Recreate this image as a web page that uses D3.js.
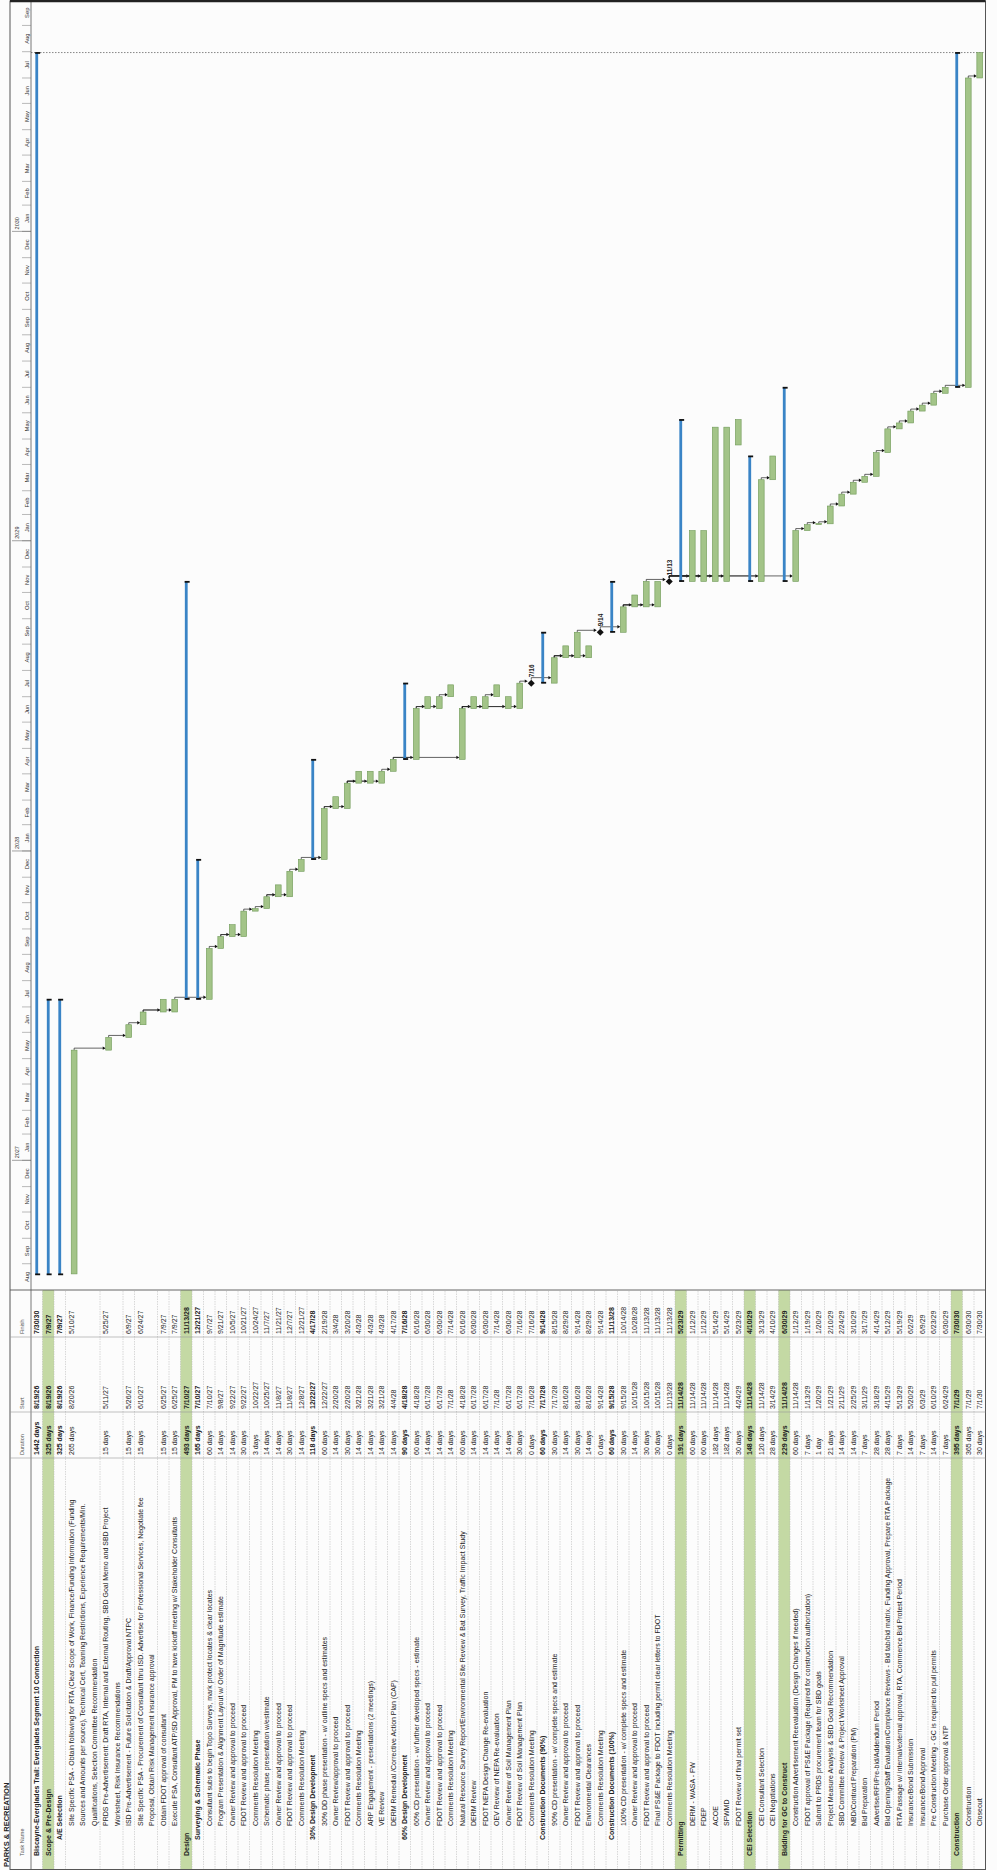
<!DOCTYPE html>
<html>
<head>
<meta charset="utf-8">
<script src="https://cdn.jsdelivr.net/npm/d3@7"></script>
<style>
  body { margin: 0; background: #fff; }
  svg { display: block; font-family: "Liberation Sans", Arial, sans-serif; }
</style>
</head>
<body>
<svg id="chart" width="997" height="1870"></svg>
<script>
const taskNames = [
  "Biscayne-Everglades Trail: Everglades Segment 10 Connection",
  "Scope & Pre-Design",
  "A/E Selection",
  "Site Specific PSA - Obtain following for RTA (Clear Scope of Work, Finance/Funding Information (Funding\nSources and Amounts per source), Technical Cert, Teaming Restrictions, Experience Requirements/Min.\nQualifications, Selection Committee Recommendation",
  "PRDS Pre-Advertisement: Draft RTA, Internal and External Routing, SBD Goal Memo and SBD Project\nWorksheet, Risk Insurance Recommendations",
  "ISD Pre-Advertisement - Future Solicitation & Draft/Approval NTPC",
  "Site Specific PSA - Procurement of Consultant thru ISD. Advertise for Professional Services, Negotiate fee\nProposal, Obtain Risk Management insurance approval",
  "Obtain FDOT approval of consultant",
  "Execute PSA, Consultant ATP/SD Approval, PM to have kickoff meeting w/ Stakeholder Consultants",
  "Design",
  "Surveying & Schematic Phase",
  "Consultant subs to begin Topo Surveys, mark protect locates & clear locates",
  "Program Presentation & Alignment Layout w/ Order of Magnitude estimate",
  "Owner Review and approval to proceed",
  "FDOT Review and approval to proceed",
  "Comments Resolution Meeting",
  "Schematic phase presentation w/estimate",
  "Owner Review and approval to proceed",
  "FDOT Review and approval to proceed",
  "Comments Resolution Meeting",
  "30% Design Development",
  "30% DD phase presentation - w/ outline specs and estimates",
  "Owner Review/approval to proceed",
  "FDOT Review and approval to proceed",
  "Comments Resolution Meeting",
  "ARP Engagement - presentations (2 meetings)",
  "VE Review",
  "DERM Remedial /Corrective Action Plan (CAP)",
  "60% Design Development",
  "60% CD presentation - w/ further developed specs - estimate",
  "Owner Review and approval to proceed",
  "FDOT Review and approval to proceed",
  "Comments Resolution Meeting",
  "Natural Resource Survey Report/Environmental Site Review & Bat Survey, Traffic Impact Study",
  "DERM Review",
  "FDOT NEPA Design Change Re-evaluation",
  "OEV Review of NEPA Re-evaluation",
  "Owner Review of Soil Management Plan",
  "FDOT Review of Soil Management Plan",
  "Comments Resolution Meeting",
  "Construction Documents (90%)",
  "90% CD presentation - w/ complete specs and estimate",
  "Owner Review and approval to proceed",
  "FDOT Review and approval to proceed",
  "Environmental Clearances",
  "Comments Resolution Meeting",
  "Construction Documents (100%)",
  "100% CD presentation - w/ complete specs and estimate",
  "Owner Review and approval to proceed",
  "FDOT Review and approval to proceed",
  "Final PS&E Package to FDOT including permit clear letters to FDOT",
  "Comments Resolution Meeting",
  "Permitting",
  "DERM - WASA - FW",
  "FDEP",
  "ACOE",
  "SFWMD",
  "FDOT Review of final permit set",
  "CEI Selection",
  "CEI Consultant Selection",
  "CEI Negotiations",
  "Bidding for GC to Construct",
  "Construction Advertisement Reevaluation (Design Changes if needed)",
  "FDOT approval of PS&E Package (Required for construction authorization)",
  "Submit to PRDS procurement team for SBD goals",
  "Project Measure Analysis & SBD Goal Recommendation",
  "SBD Committee Review & Project Worksheet Approval",
  "NBD/Contract Preparation (PM)",
  "Bid Preparation",
  "Advertise/RFI/Pre-bid/Addendum Period",
  "Bid Opening/Staff Evaluation/Compliance Reviews - Bid tab/bid matrix, Funding Approval, Prepare RTA Package",
  "RTA Passage w/ internal/external approval, RTA, Commence Bid Protest Period",
  "Insurance/Bond Submission",
  "Insurance/Bond Approval",
  "Pre Construction Meeting - GC is required to pull permits",
  "Purchase Order approval & NTP",
  "Construction",
  "Construction",
  "Closeout"
];

const levels = [1,2,3,4,4,4,4,4,4,
  2,3,4,4,4,4,4,4,4,4,4,
  3,4,4,4,4,4,4,4,
  3,4,4,4,4,4,4,4,4,4,4,4,
  3,4,4,4,4,4,
  3,4,4,4,4,4,
  2,4,4,4,4,4,
  2,4,4,
  2,4,4,4,4,4,4,4,4,4,4,4,4,4,4,
  2,4,4];

const durations = ["1442 days","325 days","325 days","265 days","15 days","15 days","15 days","15 days","15 days",
  "493 days","165 days","60 days","14 days","14 days","30 days","3 days","14 days","14 days","30 days","14 days",
  "118 days","60 days","14 days","30 days","14 days","14 days","14 days","14 days",
  "90 days","60 days","14 days","14 days","14 days","60 days","14 days","14 days","14 days","14 days","30 days","0 days",
  "60 days","30 days","14 days","30 days","14 days","0 days",
  "60 days","30 days","14 days","30 days","30 days","0 days",
  "191 days","60 days","60 days","182 days","182 days","30 days",
  "148 days","120 days","28 days",
  "229 days","60 days","7 days","1 day","21 days","14 days","14 days","7 days","28 days","28 days","7 days","14 days","7 days","14 days","7 days",
  "395 days","365 days","30 days"];

const starts = ["8/19/26","8/19/26","8/19/26","8/20/26","5/11/27","5/26/27","6/10/27","6/25/27","6/25/27",
  "7/10/27","7/10/27","7/10/27","9/8/27","9/22/27","9/22/27","10/22/27","10/25/27","11/8/27","11/8/27","12/8/27",
  "12/22/27","12/22/27","2/20/28","2/20/28","3/21/28","3/21/28","3/21/28","4/4/28",
  "4/18/28","4/18/28","6/17/28","6/17/28","7/1/28","4/18/28","6/17/28","6/17/28","7/1/28","6/17/28","6/17/28","7/16/28",
  "7/17/28","7/17/28","8/16/28","8/16/28","8/16/28","9/14/28",
  "9/15/28","9/15/28","10/15/28","10/15/28","10/15/28","11/13/28",
  "11/14/28","11/14/28","11/14/28","11/14/28","11/14/28","4/24/29",
  "11/14/28","11/14/28","3/14/29",
  "11/14/28","11/14/28","1/13/29","1/20/29","1/21/29","2/11/29","2/25/29","3/11/29","3/18/29","4/15/29","5/13/29","5/20/29","6/3/29","6/10/29","6/24/29",
  "7/1/29","7/1/29","7/1/30"];

const finishes = ["7/30/30","7/9/27","7/9/27","5/10/27","5/25/27","6/9/27","6/24/27","7/9/27","7/9/27",
  "11/13/28","12/21/27","9/7/27","9/21/27","10/5/27","10/21/27","10/24/27","11/7/27","11/21/27","12/7/27","12/21/27",
  "4/17/28","2/19/28","3/4/28","3/20/28","4/3/28","4/3/28","4/3/28","4/17/28",
  "7/16/28","6/16/28","6/30/28","6/30/28","7/14/28","6/16/28","6/30/28","6/30/28","7/14/28","6/30/28","7/16/28","7/16/28",
  "9/14/28","8/15/28","8/29/28","9/14/28","8/29/28","9/14/28",
  "11/13/28","10/14/28","10/28/28","11/13/28","11/13/28","11/13/28",
  "5/23/29","1/12/29","1/12/29","5/14/29","5/14/29","5/23/29",
  "4/10/29","3/13/29","4/10/29",
  "6/30/29","1/12/29","1/19/29","1/20/29","2/10/29","2/24/29","3/10/29","3/17/29","4/14/29","5/12/29","5/19/29","6/2/29","6/9/29","6/23/29","6/30/29",
  "7/30/30","6/30/30","7/30/30"];

// predecessor -> successor (finish-to-start)
const links = [[3,4],[4,5],[5,6],[6,7],[6,8],[8,11],[11,12],[12,13],[12,14],[14,15],[15,16],[16,17],[16,18],[18,19],
  [19,21],[21,22],[21,23],[23,24],[23,25],[23,26],[26,27],[27,29],[27,33],[29,30],[29,31],[31,32],[33,34],[33,35],
  [35,36],[33,37],[33,38],[38,39],[39,41],[41,42],[41,43],[41,44],[43,45],[45,47],[47,48],[47,49],[47,50],[49,51],
  [51,53],[51,54],[51,55],[51,56],[51,59],[59,60],[51,62],[62,63],[63,64],[64,65],[65,66],[66,67],[67,68],[68,69],
  [69,70],[70,71],[71,72],[72,73],[73,74],[74,75],[75,77],[77,78]];

const monthLabels = ["Jan","Feb","Mar","Apr","May","Jun","Jul","Aug","Sep","Oct","Nov","Dec"];
const timeStart = "8/1/26", timeEnd = "10/1/30", projectFinish = "7/30/30";

// ---- layout (drawn landscape, then turned a quarter to the left) ----
const W = 1870;
const tableRight = 580, colDur = 412, colStart = 458, colFinish = 533;
const headTop = 10, tierMid = 21, headBottom = 31, pitch = 11.5;
const indent = {1: 14, 2: 14, 3: 30, 4: 44};

const parse = d3.timeParse("%m/%d/%y");
const dayAfter = d => d3.timeDay.offset(d, 1);

const svg = d3.select("#chart");
svg.append("rect").attr("width", 997).attr("height", 1870).attr("fill", "#fcfcfc");
const g = svg.append("g").attr("transform", "translate(0,1870) rotate(-90)");

const x = d3.scaleTime().domain([parse(timeStart), parse(timeEnd)]).range([tableRight, W]);

// rows
let cum = 0;
const rows = taskNames.map((name, i) => {
  const lines = name.split("\n");
  const top = headBottom + cum * pitch;
  cum += lines.length;
  const h = lines.length * pitch;
  return {
    i, lines, top, h,
    level: levels[i],
    summary: i + 1 < taskNames.length && levels[i + 1] > levels[i],
    milestone: durations[i] === "0 days",
    s: parse(starts[i]), f: parse(finishes[i]),
    barY: top + Math.min(h / 2, pitch * 0.75)
  };
});
const bottom = headBottom + cum * pitch;

// green phase rows in the table
g.selectAll(".phase").data(rows.filter(r => r.level === 2)).join("rect")
  .attr("x", 0).attr("y", d => d.top).attr("width", tableRight).attr("height", d => d.h)
  .attr("fill", "#c4d9a4");

// row lines (table only)
g.selectAll(".rowline").data(rows).join("line")
  .attr("x1", 0).attr("x2", tableRight)
  .attr("y1", d => d.top + d.h).attr("y2", d => d.top + d.h)
  .attr("stroke", "#b5b5b5").attr("stroke-width", 0.5).attr("stroke-dasharray", "1.5,1");

// frame and column lines
const frame = g.append("g").attr("stroke", "#555").attr("fill", "none");
frame.append("rect").attr("x", 0.5).attr("y", headTop).attr("width", W - 1.5).attr("height", bottom - headTop)
  .attr("stroke-width", 1);
frame.append("line").attr("x1", 0).attr("x2", W).attr("y1", headBottom).attr("y2", headBottom).attr("stroke-width", 0.8);
[colDur, colStart, colFinish].forEach(c =>
  frame.append("line").attr("x1", c).attr("x2", c).attr("y1", headTop).attr("y2", bottom)
    .attr("stroke", "#999").attr("stroke-width", 0.6));
frame.append("line").attr("x1", tableRight).attr("x2", tableRight).attr("y1", headTop).attr("y2", bottom)
  .attr("stroke-width", 0.9);
g.append("line").attr("x1", W - 1).attr("x2", W - 1).attr("y1", headTop).attr("y2", bottom)
  .attr("stroke", "#222").attr("stroke-width", 2.5);

// title and table headers
g.append("text").attr("x", 3).attr("y", 8.5).attr("font-size", 7.5).attr("font-weight", "bold")
  .attr("fill", "#222").text("PARKS & RECREATION");
const heads = [["Task Name", 14], ["Duration", colDur + 3], ["Start", colStart + 3], ["Finish", colFinish + 3]];
g.selectAll(".head").data(heads).join("text")
  .attr("x", d => d[1]).attr("y", 24).attr("font-size", 5.5).attr("fill", "#555").text(d => d[0]);

// timescale header
const months = d3.timeMonth.range(parse(timeStart), parse(timeEnd));
const hdr = g.append("g");
hdr.selectAll(".mtick").data(months.slice(1)).join("line")
  .attr("x1", d => x(d)).attr("x2", d => x(d)).attr("y1", tierMid + 1).attr("y2", headBottom)
  .attr("stroke", "#777").attr("stroke-width", 0.5);
hdr.selectAll(".mlab").data(months).join("text")
  .attr("x", d => (x(d) + x(d3.timeMonth.offset(d, 1))) / 2).attr("y", 29)
  .attr("text-anchor", "middle").attr("font-size", 5.8).attr("fill", "#333")
  .text(d => monthLabels[d.getMonth()]);
const years = months.filter(d => d.getMonth() === 0);
hdr.selectAll(".ytick").data(years).join("line")
  .attr("x1", d => x(d)).attr("x2", d => x(d)).attr("y1", headTop + 2).attr("y2", headBottom)
  .attr("stroke", "#666").attr("stroke-width", 0.6);
hdr.selectAll(".ylab").data(years).join("text")
  .attr("x", d => x(d) + 2).attr("y", 19).attr("font-size", 5.5).attr("fill", "#333")
  .text(d => d.getFullYear());

// table text
const txt = g.append("g").attr("fill", "#222").attr("font-size", 7);
rows.forEach(r => {
  const bold = r.summary ? "bold" : "normal";
  r.lines.forEach((ln, k) => {
    const t = txt.append("text").attr("x", indent[r.level]).attr("y", r.top + k * pitch + 8.3)
      .attr("font-weight", bold).text(ln);
    const avail = colDur - indent[r.level] - 3;
    if (t.node().getComputedTextLength() > avail)
      t.attr("textLength", avail).attr("lengthAdjust", "spacingAndGlyphs");
  });
  const y = r.top + 8.3;
  txt.append("text").attr("x", colDur + 3).attr("y", y).attr("font-weight", bold).text(durations[r.i]);
  txt.append("text").attr("x", colStart + 3).attr("y", y).attr("font-weight", bold).text(starts[r.i]);
  txt.append("text").attr("x", colFinish + 3).attr("y", y).attr("font-weight", bold).text(finishes[r.i]);
});

// project finish line
g.append("line").attr("x1", x(dayAfter(parse(projectFinish)))).attr("x2", x(dayAfter(parse(projectFinish))))
  .attr("y1", headBottom).attr("y2", bottom)
  .attr("stroke", "#555").attr("stroke-width", 0.7).attr("stroke-dasharray", "1.5,1.5");

// dependency links
const barHalf = r => r.summary ? 1.5 : (r.milestone ? 3.5 : 2.9);
const endX = r => r.milestone ? x(dayAfter(r.f)) + 3.5 : x(dayAfter(r.f));
const lk = g.append("g");
links.forEach(([a, b]) => {
  const p = rows[a], q = rows[b];
  const x1 = endX(p), y1 = p.barY;
  const ax = Math.max(x(q.s) + 2, x1 + 2);
  const yb = q.barY - barHalf(q);
  lk.append("path").attr("d", `M${x1},${y1}H${ax}V${yb - 2.5}`)
    .attr("fill", "none").attr("stroke", "#222").attr("stroke-width", 0.7);
  lk.append("path").attr("d", `M${ax - 1.7},${yb - 3}L${ax + 1.7},${yb - 3}L${ax},${yb}Z`).attr("fill", "#111");
});

// summary bars
const sums = rows.filter(r => r.summary);
g.selectAll(".sum").data(sums).join("rect")
  .attr("x", d => x(d.s)).attr("y", d => d.barY - 1.4)
  .attr("width", d => x(dayAfter(d.f)) - x(d.s)).attr("height", 2.8)
  .attr("fill", "#3a84c6");
g.selectAll(".capS").data(sums).join("rect")
  .attr("x", d => x(d.s) - 0.5).attr("y", d => d.barY - 1.6).attr("width", 1.8).attr("height", 5).attr("fill", "#111");
g.selectAll(".capE").data(sums).join("rect")
  .attr("x", d => x(dayAfter(d.f)) - 1.3).attr("y", d => d.barY - 1.6).attr("width", 1.8).attr("height", 5).attr("fill", "#111");

// task bars
const tasks = rows.filter(r => !r.summary && !r.milestone);
g.selectAll(".task").data(tasks).join("rect")
  .attr("x", d => x(d.s)).attr("y", d => d.barY - 2.9)
  .attr("width", d => Math.max(1.2, x(dayAfter(d.f)) - x(d.s))).attr("height", 5.8)
  .attr("fill", "#a3c488").attr("stroke", "#6f9a57").attr("stroke-width", 0.6);

// milestones
const ms = rows.filter(r => r.milestone);
const fmt = d3.timeFormat("%-m/%-d");
g.selectAll(".ms").data(ms).join("path")
  .attr("d", d => { const cx = x(dayAfter(d.f)), cy = d.barY;
    return `M${cx},${cy - 3.5}L${cx + 3.5},${cy}L${cx},${cy + 3.5}L${cx - 3.5},${cy}Z`; })
  .attr("fill", "#111");
g.selectAll(".msl").data(ms).join("text")
  .attr("x", d => x(dayAfter(d.f)) + 6).attr("y", d => d.barY + 2.5)
  .attr("font-size", 6.5).attr("font-weight", "bold").attr("fill", "#222").text(d => fmt(d.f));
</script>
</body>
</html>
